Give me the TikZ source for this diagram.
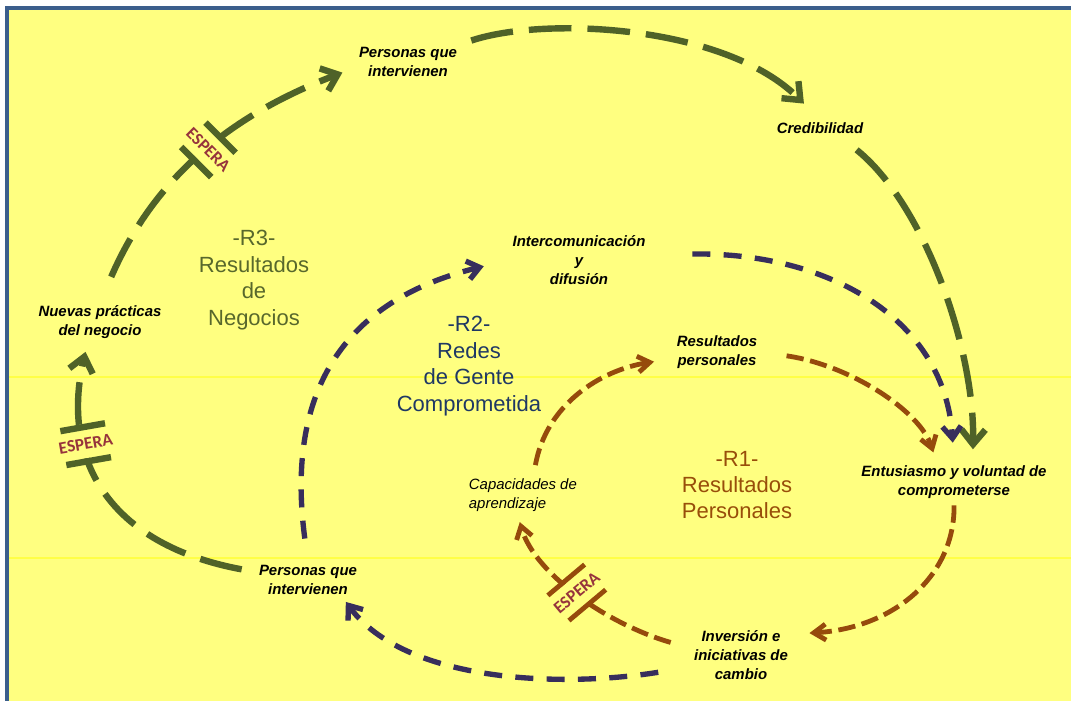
\documentclass[tikz,border=0pt]{standalone}
\usepackage{fontspec}
\setmainfont{Liberation Sans}
\newfontfamily\esperafont{Carlito}
\usetikzlibrary{arrows.meta,calc}

\definecolor{fondo}{RGB}{255,255,128}
\definecolor{franja}{RGB}{255,255,70}
\definecolor{marco}{RGB}{59,94,140}
\definecolor{verde}{RGB}{79,98,40}
\definecolor{azul}{RGB}{56,46,92}
\definecolor{cafe}{RGB}{150,74,12}
\definecolor{verdetxt}{RGB}{88,104,44}
\definecolor{azultxt}{RGB}{31,56,100}
\definecolor{cafetxt}{RGB}{152,78,10}
\definecolor{vino}{RGB}{150,52,60}

\tikzset{
    etiqueta/.style={align=center, inner sep=2pt, font=\fontsize{11.2}{14.25}\selectfont\bfseries\itshape},
    ciclo/.style={align=center, font=\fontsize{16.5}{19.8}\selectfont},
    espera/.style={fill=fondo, inner xsep=0pt, inner ysep=1pt, minimum height=21pt, text=vino, font=\esperafont\bfseries\fontsize{13}{13}\selectfont},
    lazoR3/.style={draw=verde, line width=4.8pt, dash pattern=on 32pt off 12pt, -{Straight Barb[length=11pt,width=18pt]}},
    lazoR2/.style={draw=azul, line width=4pt, dash pattern=on 13.5pt off 10pt, -{Straight Barb[length=9pt,width=14pt]}},
    lazoR1/.style={draw=cafe, line width=3.6pt, dash pattern=on 13pt off 5pt, -{Straight Barb[length=9pt,width=12pt]}},
    barraR3/.style={draw=verde, line width=4.8pt},
    barraR1/.style={draw=cafe, line width=3.6pt}
}

\begin{document}
\begin{tikzpicture}[x=0.75pt, y=-0.75pt]
        \useasboundingbox (0,0) rectangle (1071,700);

        % Draw the background
        \fill[white] (0,0) rectangle (1071,700);
        \draw[marco, line width=2.4pt, fill=fondo] (7,8) rectangle (1090,720);
        \draw[franja, line width=0.8pt] (9,377) -- (1071,377);
        \draw[franja, line width=0.8pt] (9,558) -- (1071,558);

        % Define nodes
        \node[etiqueta] (pers1) at (408,62) {Personas que\\intervienen};
        \node[etiqueta] (cred) at (820,128) {Credibilidad};
        \node[etiqueta] (inter) at (579,260) {Intercomunicación\\y\\difusión};
        \node[etiqueta] (nuevas) at (100,322) {Nuevas prácticas\\del negocio};
        \node[etiqueta] (resp) at (717,352) {Resultados\\personales};
        \node[etiqueta] (entus) at (954,482) {Entusiasmo y voluntad de\\comprometerse};
        \node[etiqueta, font=\fontsize{11.2}{14.25}\selectfont\itshape, align=left, anchor=west] (capac) at (466,495) {Capacidades de\\aprendizaje};
        \node[etiqueta] (pers2) at (308,580) {Personas que\\intervienen};
        \node[etiqueta] (inver) at (741,655) {Inversión e\\iniciativas de\\cambio};

        \node[ciclo, text=verdetxt] (r3) at (254,280) {-R3-\\Resultados\\de\\Negocios};
        \node[ciclo, text=azultxt] (r2) at (469,366) {-R2-\\Redes\\de Gente\\Comprometida};
        \node[ciclo, text=cafetxt] (r1) at (737,485) {-R1-\\Resultados\\Personales};

        % Draw loop R3
        \draw[lazoR3, shorten <=21pt, shorten >=11pt] (nuevas.north) .. controls (156,174) and (234,114) .. ([yshift=-4pt]pers1.west)
            node[espera, pos=0.52, rotate=-45] (esp1) {ESPERA};
        \draw[lazoR3, shorten <=9pt, shorten >=17pt] (pers1.north east) .. controls (545,16) and (725,25) .. (cred.north);
        \draw[lazoR3, shorten <=16pt, shorten >=10pt] ([xshift=15pt]cred.south) .. controls (925,205) and (975,350) .. ([xshift=14pt]entus.north);
        \draw[lazoR3, shorten <=11pt, shorten >=8pt] ([yshift=6pt]pers2.west) .. controls (110,545) and (60,460) .. ([xshift=-9pt]nuevas.south)
            node[espera, pos=0.68, rotate=10] (esp2) {ESPERA};

        \draw[barraR3] ($(esp1.north)!16pt!(esp1.north west)$) -- ($(esp1.north)!16pt!(esp1.north east)$);
        \draw[barraR3] ($(esp1.south)!16pt!(esp1.south west)$) -- ($(esp1.south)!16pt!(esp1.south east)$);
        \draw[barraR3] ($(esp2.north)!17pt!(esp2.north west)$) -- ($(esp2.north)!17pt!(esp2.north east)$);
        \draw[barraR3] ($(esp2.south)!17pt!(esp2.south west)$) -- ($(esp2.south)!17pt!(esp2.south east)$);

        % Draw loop R2
        \draw[lazoR2, shorten <=18pt, shorten >=20pt] (pers2.north) .. controls (285,390) and (345,300) .. (inter.west);
        \draw[lazoR2, shorten <=33pt, shorten >=15pt] ([yshift=4pt]inter.east) .. controls (830,252) and (945,320) .. (entus.north);
        \draw[lazoR2, shorten <=25pt, shorten >=4pt] ([yshift=-9pt]inver.west) .. controls (560,688) and (405,682) .. ([xshift=26pt]pers2.south);

        % Draw loop R1
        \draw[lazoR1, shorten <=8pt, shorten >=15pt] ([xshift=8pt]capac.north) .. controls (546,405) and (600,370) .. ([yshift=-5pt]resp.west);
        \draw[lazoR1, shorten <=20pt, shorten >=8pt] (resp.east) .. controls (850,365) and (920,411) .. ([xshift=-13pt]entus.north);
        \draw[lazoR1, shorten <=3pt, shorten >=14pt] (entus.south) .. controls (955,575) and (895,628) .. ([yshift=-5pt]inver.north east);
        \draw[lazoR1, shorten <=16pt, shorten >=6pt] ([yshift=5pt]inver.west) .. controls (610,625) and (535,575) .. ([xshift=-4pt]capac.south)
            node[espera, pos=0.52, rotate=40] (esp3) {ESPERA};

        \draw[barraR1] ($(esp3.north)!18pt!(esp3.north west)$) -- ($(esp3.north)!18pt!(esp3.north east)$);
        \draw[barraR1] ($(esp3.south)!18pt!(esp3.south west)$) -- ($(esp3.south)!18pt!(esp3.south east)$);
    \end{tikzpicture}
\end{document}
